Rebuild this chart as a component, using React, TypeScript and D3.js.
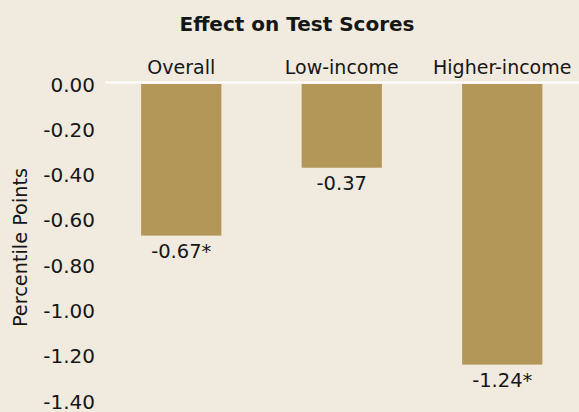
import { useEffect, useRef } from "react";
import * as d3 from "d3";

const categories = ["Overall", "Low-income", "Higher-income"];
const effects = [-0.67, -0.37, -1.24];
const significant = [true, false, true];
const yTicks = [0, -0.2, -0.4, -0.6, -0.8, -1.0, -1.2, -1.4];

const W = 579;
const H = 412;
const BG = "#f0eadf";
const BAR = "#b39758";
const INK = "#161616";
const FONT = "'DejaVu Sans', sans-serif";

export default function App() {
  const ref = useRef<SVGSVGElement>(null);

  useEffect(() => {
    const svg = d3.select(ref.current);
    svg.selectAll("*").remove();

    const x = d3
      .scaleBand()
      .domain(categories)
      .range([101, 582.5])
      .paddingInner(0.5)
      .paddingOuter(0.25);
    const y = d3.scaleLinear().domain([-1.4, 0]).range([400.8, 84]);

    svg.append("rect").attr("width", W).attr("height", H).attr("fill", BG);

    // title
    svg
      .append("text")
      .attr("x", 297)
      .attr("y", 31)
      .attr("text-anchor", "middle")
      .attr("font-size", 20)
      .attr("font-weight", "bold")
      .attr("fill", INK)
      .text("Effect on Test Scores");

    // y axis labels
    const yAxis = d3
      .axisLeft(y)
      .tickValues(yTicks)
      .tickSize(0)
      .tickPadding(0)
      .tickFormat((d) => d3.format(".2f")(d as number).replace("−", "-"));
    const ga = svg
      .append("g")
      .attr("transform", "translate(95,0)")
      .call(yAxis);
    ga.select(".domain").remove();
    ga.selectAll("text")
      .attr("font-family", FONT)
      .attr("font-size", 20)
      .attr("fill", INK)
      .attr("dy", "0.36em");

    svg
      .append("text")
      .attr("transform", "translate(26.5,247.5) rotate(-90)")
      .attr("text-anchor", "middle")
      .attr("font-size", 19.3)
      .attr("fill", INK)
      .text("Percentile Points");

    // bars
    svg
      .selectAll("rect.bar")
      .data(effects)
      .enter()
      .append("rect")
      .attr("class", "bar")
      .attr("x", (d, i) => x(categories[i])!)
      .attr("width", x.bandwidth())
      .attr("y", y(0))
      .attr("height", (d) => y(d) - y(0))
      .attr("fill", BAR);

    // zero line
    svg
      .append("line")
      .attr("x1", 105)
      .attr("x2", W)
      .attr("y1", y(0) - 1.5)
      .attr("y2", y(0) - 1.5)
      .attr("stroke", "#ffffff")
      .attr("stroke-width", 2);

    // category labels
    svg
      .selectAll("text.cat")
      .data(categories)
      .enter()
      .append("text")
      .attr("class", "cat")
      .attr("x", (d) => x(d)! + x.bandwidth() / 2)
      .attr("y", 74)
      .attr("text-anchor", "middle")
      .attr("font-size", 19)
      .attr("fill", INK)
      .text((d) => d);

    // value labels
    svg
      .selectAll("text.val")
      .data(effects)
      .enter()
      .append("text")
      .attr("class", "val")
      .attr("x", (d, i) => x(categories[i])! + x.bandwidth() / 2)
      .attr("y", (d) => y(d) + 22)
      .attr("text-anchor", "middle")
      .attr("font-size", 19.5)
      .attr("fill", INK)
      .text((d, i) => d.toFixed(2) + (significant[i] ? "*" : ""));

    svg.selectAll("text").attr("font-family", FONT);
  }, []);

  return (
    <svg
      ref={ref}
      width={W}
      height={H}
      style={{ position: "absolute", left: 0, top: 0 }}
    />
  );
}
